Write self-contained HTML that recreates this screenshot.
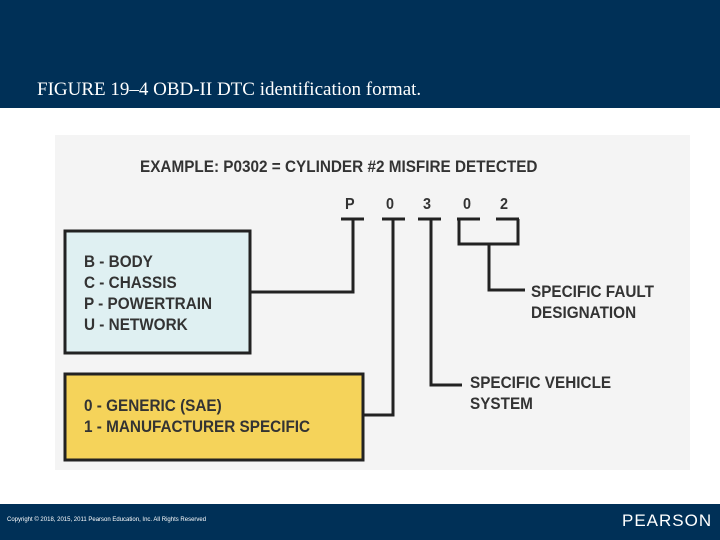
<!DOCTYPE html>
<html><head><style>
body{margin:0;width:720px;height:540px;position:relative;background:#fff;overflow:hidden;font-family:"Liberation Sans",sans-serif}
.hd{position:absolute;left:0;top:0;width:720px;height:108px;background:#003057}
.ttl{position:absolute;left:37px;top:79px;color:#fff;font-family:"Liberation Serif",serif;font-size:19px}
.ft{position:absolute;left:0;top:504px;width:720px;height:36px;background:#003057}
.t{position:absolute;font-weight:bold;color:#333;font-size:16px;line-height:21px;white-space:nowrap;transform:scaleX(0.9);transform-origin:left}
</style></head><body>
<div class="hd"></div>
<div class="ttl">FIGURE 19–4 OBD-II DTC identification format.</div>
<svg style="position:absolute;left:0;top:0" width="720" height="540">
<rect x="55" y="135" width="635" height="335" fill="#f4f4f4"/>
<rect x="65" y="231" width="185" height="122" fill="#dff0f2" stroke="#222" stroke-width="3"/>
<rect x="65" y="374" width="298" height="86" fill="#f5d35a" stroke="#222" stroke-width="3"/>
<g stroke="#222" stroke-width="3" fill="none">
<line x1="341" y1="219" x2="364" y2="219"/>
<line x1="382" y1="219" x2="405" y2="219"/>
<line x1="418" y1="219" x2="441" y2="219"/>
<line x1="457" y1="219" x2="480" y2="219"/>
<line x1="496" y1="219" x2="519" y2="219"/>
<polyline points="353,219 353,292 251,292"/>
<polyline points="393,219 393,415 364,415"/>
<polyline points="431,219 431,385 462,385"/>
<polyline points="459,219 459,244 518,244 518,219"/>
<polyline points="489,244 489,290 525,290"/>
</g>
</svg>
<div class="t" style="left:140px;top:156px;font-size:17px">EXAMPLE: P0302 = CYLINDER #2 MISFIRE DETECTED</div>
<div class="t" style="left:345px;top:194px">P</div>
<div class="t" style="left:386px;top:194px">0</div>
<div class="t" style="left:423px;top:194px">3</div>
<div class="t" style="left:463px;top:194px">0</div>
<div class="t" style="left:500px;top:194px">2</div>
<div class="t" style="left:84px;top:251px;font-size:17px">B - BODY<br>C - CHASSIS<br>P - POWERTRAIN<br>U - NETWORK</div>
<div class="t" style="left:84px;top:395px;font-size:17px">0 - GENERIC (SAE)<br>1 - MANUFACTURER SPECIFIC</div>
<div class="t" style="left:531px;top:281px;font-size:17px">SPECIFIC FAULT<br>DESIGNATION</div>
<div class="t" style="left:470px;top:372px;font-size:17px">SPECIFIC VEHICLE<br>SYSTEM</div>
<div class="ft"></div>
<div style="position:absolute;left:7px;top:517px;color:#fff;font-size:6px">Copyright © 2018, 2015, 2011 Pearson Education, Inc. All Rights Reserved</div>
<div style="position:absolute;left:622px;top:511px;color:#fff;font-size:17px;letter-spacing:1px">PEARSON</div>
</body></html>
